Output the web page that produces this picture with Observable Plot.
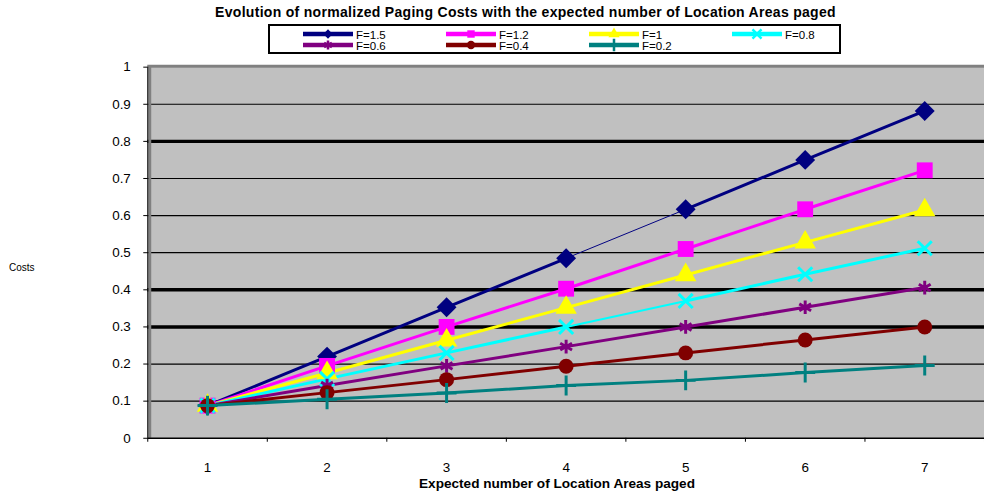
<!DOCTYPE html>
<html>
<head>
<meta charset="utf-8">
<script src="https://cdn.jsdelivr.net/npm/d3@7"></script>
<script src="https://cdn.jsdelivr.net/npm/@observablehq/plot@0.6"></script>
<style>
  html, body { margin: 0; padding: 0; background: white; overflow: hidden; }
  body { width: 984px; height: 493px; position: relative; font-family: "Liberation Sans", Arial, sans-serif; }
  #chart { position: absolute; left: 0; top: 0; }
  .title { position: absolute; font-weight: bold; white-space: nowrap; color: #000; }
  #legend { position: absolute; left: 268px; top: 24px; }
</style>
</head>
<body>
<div id="chart"></div>
<div class="title" id="title" style="left:0; width:1051px; top:4px; text-align:center; font-size:14px; letter-spacing:0.3px;">Evolution of normalized Paging Costs with the expected number of Location Areas paged</div>
<div class="title" id="xtitle" style="left:0; width:1114px; top:476px; text-align:center; font-size:13.6px;">Expected number of Location Areas paged</div>
<div class="title" style="left:9px; top:262px; font-weight:normal; font-size:10px;">Costs</div>
<svg id="legend" width="573" height="30"></svg>
<script>
// ---- data ----
const categories = [1, 2, 3, 4, 5, 6, 7];
const seriesNames = ["F=1.5", "F=1.2", "F=1", "F=0.8", "F=0.6", "F=0.4", "F=0.2"];
const f15 = [0.088, 0.220, 0.353, 0.485, 0.617, 0.750, 0.882];
const f12 = [0.088, 0.195, 0.300, 0.403, 0.510, 0.617, 0.722];
const f10 = [0.088, 0.176, 0.264, 0.352, 0.440, 0.528, 0.615];
const f08 = [0.088, 0.160, 0.230, 0.300, 0.370, 0.442, 0.512];
const f06 = [0.088, 0.142, 0.195, 0.247, 0.300, 0.353, 0.406];
const f04 = [0.088, 0.123, 0.158, 0.194, 0.230, 0.265, 0.300];
const f02 = [0.088, 0.105, 0.122, 0.142, 0.156, 0.177, 0.196];
const yTicks = [0, 0.1, 0.2, 0.3, 0.4, 0.5, 0.6, 0.7, 0.8, 0.9, 1];
const yTickLabels = ["0", "0.1", "0.2", "0.3", "0.4", "0.5", "0.6", "0.7", "0.8", "0.9", "1"];
const xTickLabels = ["1", "2", "3", "4", "5", "6", "7"];

// ---- styles ----
const values = [f15, f12, f10, f08, f06, f04, f02];
const colors = ["#000080", "#FF00FF", "#FFFF00", "#00FFFF", "#800080", "#800000", "#008080"];
const symbols = ["diamond2", "square", "triangle", "times", "asterisk", "circle", "plus"];
const markerR = [9, 9, 8, 6.5, 6.5, 7.5, 6.5];
const strokeSymbols = new Set(["times", "asterisk", "plus"]);
const heavyGrid = [0.3, 0.4, 0.8];
const thinSegments = { "F=1.5": { 4: 1 }, "F=0.8": { 4: 2 } };

const points = seriesNames.flatMap((s, i) => categories.map((c, j) => ({ series: s, x: c, y: values[i][j], sym: symbols[i], r: markerR[i] })));
const segments = seriesNames.flatMap((s, i) => categories.slice(0, -1).map((c, j) => ({
  series: s, x1: c, x2: categories[j + 1], y1: values[i][j], y2: values[i][j + 1],
  w: (thinSegments[s] && thinSegments[s][c]) || 3
})));
const boundaries = [0.5, ...categories.map(c => c + 0.5)];
const gridTicks = yTicks.filter(t => t > 0 && t < 1);

// markers drawn series by series, in order, so later series sit on top
const markerMarks = seriesNames.map((s, i) => {
  const pts = points.filter(d => d.series === s);
  return strokeSymbols.has(symbols[i])
    ? Plot.dot(pts, { x: "x", y: "y", symbol: "series", stroke: "series", r: "r", strokeWidth: 3 })
    : Plot.dot(pts, { x: "x", y: "y", symbol: "series", fill: "series", r: "r", stroke: "none" });
});

const chart = Plot.plot({
  width: 989, height: 493,
  marginLeft: 148, marginRight: 0, marginTop: 67, marginBottom: 53,
  x: { domain: [0.5, 7.5] },
  y: { domain: [0, 1] },
  r: { type: "identity" },
  color: { domain: seriesNames, range: colors },
  symbol: { domain: seriesNames, range: symbols },
  style: { fontFamily: "'Liberation Sans', Arial, sans-serif", background: "white", color: "black", overflow: "hidden" },
  marks: [
    Plot.frame({ fill: "#c0c0c0" }),
    Plot.ruleY(gridTicks, { y: d => d, stroke: "black", strokeWidth: d => heavyGrid.includes(d) ? 3.5 : 1.2 }),
    Plot.ruleY([1], { y: d => d, stroke: "#808080", strokeWidth: 3, dy: -1 }),
    Plot.ruleX([0.5], { x: d => d, stroke: "#808080", strokeWidth: 3, dx: 2 }),
    Plot.ruleX([0.5], { x: d => d, stroke: "black", strokeWidth: 1 }),
    Plot.ruleY([0], { y: d => d, stroke: "black", strokeWidth: 1.5 }),
    Plot.axisY(yTicks, { tickSize: 4, tickPadding: 13, fontSize: 13.5, tickFormat: (d, i) => yTickLabels[i], label: null }),
    Plot.axisX(boundaries, { tickSize: 4, tickFormat: () => "", label: null }),
    Plot.axisX(categories, { tickSize: 0, tickPadding: 24, fontSize: 13.5, tickFormat: (d, i) => xTickLabels[i], label: null }),
    Plot.link(segments, { x1: "x1", y1: "y1", x2: "x2", y2: "y2", stroke: "series", strokeWidth: "w", strokeLinecap: "round" }),
    ...markerMarks
  ]
});
document.getElementById("chart").appendChild(chart);

// ---- legend ----
const symMap = {
  diamond2: d3.symbolDiamond2, square: d3.symbolSquare, triangle: d3.symbolTriangle,
  times: d3.symbolTimes, asterisk: d3.symbolAsterisk, circle: d3.symbolCircle, plus: d3.symbolPlus
};
const lg = d3.select("#legend");
lg.append("rect").attr("x", 1).attr("y", 1).attr("width", 571).attr("height", 28)
  .attr("fill", "white").attr("stroke", "black").attr("stroke-width", 2);
seriesNames.forEach((s, i) => {
  const col = i % 4, row = Math.floor(i / 4);
  const x0 = 35 + col * 143, yc = 10 + row * 11;
  const g = lg.append("g").attr("transform", `translate(${x0},${yc})`);
  g.append("line").attr("x1", 0).attr("x2", 50).attr("y1", 0).attr("y2", 0)
    .attr("stroke", colors[i]).attr("stroke-width", 4.5);
  const isStroke = strokeSymbols.has(symbols[i]);
  g.append("path").attr("transform", "translate(25,0)")
    .attr("d", d3.symbol(symMap[symbols[i]], 55)())
    .attr("fill", isStroke ? "none" : colors[i])
    .attr("stroke", isStroke ? colors[i] : "none").attr("stroke-width", 2.5);
  g.append("text").attr("x", 53).attr("y", 4.5).attr("font-size", 11.5)
    .attr("font-family", "'Liberation Sans', Arial, sans-serif").text(s);
});
</script>
</body>
</html>
